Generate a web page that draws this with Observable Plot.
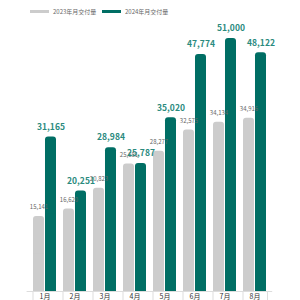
<!DOCTYPE html>
<html><head><meta charset="utf-8">
<script src="https://cdn.jsdelivr.net/npm/d3@7"></script>
<script src="https://cdn.jsdelivr.net/npm/@observablehq/plot@0.6"></script>
<style>
body{margin:0;background:#fff;font-family:"Noto Sans CJK SC","Noto Sans",sans-serif;}
#wrap{width:300px;height:300px;position:relative;overflow:hidden;}
#legend{height:20px;position:relative;font-size:6px;color:#666;}
.li{position:absolute;top:7px;display:flex;align-items:center;}
.sw{width:19px;height:2.5px;margin-right:4px;}
</style></head><body>
<div id="wrap">
<div id="legend"></div>
<div id="chart"></div>
</div>
<script>
const months = ["1月","2月","3月","4月","5月","6月","7月","8月"];
const series2023 = [15141,16620,20823,25681,28277,32575,34134,34916];
const series2024 = [31165,20251,28984,25787,35020,47774,51000,48122];
const seriesNames = ["2023年月交付量","2024年月交付量"];
const colors = ["#cccccc","#006e64"];

const leg = document.getElementById("legend");
[[30,0],[102,1]].forEach(([x,i])=>{
  const d=document.createElement("div");d.className="li";d.style.left=x+"px";
  d.innerHTML=`<span class="sw" style="background:${colors[i]}"></span><span>${seriesNames[i]}</span>`;
  leg.appendChild(d);
});

const d23 = months.map((m,i)=>({month:m,value:series2023[i]}));
const d24 = months.map((m,i)=>({month:m,value:series2024[i]}));
const fmt = d3.format(",");
const half = 12;

const chart = Plot.plot({
  width:300, height:280,
  marginLeft:26.6, marginRight:27.8, marginTop:18, marginBottom:9,
  x:{domain:months, paddingInner:0.22, paddingOuter:0.11, label:null},
  y:{domain:[0,51000], axis:null},
  style:{fontFamily:"Noto Sans CJK SC, Noto Sans, sans-serif"},
  marks:[
    Plot.barY(d23,{x:"month",y:"value",fill:colors[0],insetRight:half,rx:3}),
    Plot.barY(d23,{x:"month",y:d=>d.value/2,fill:colors[0],insetRight:half}),
    Plot.barY(d24,{x:"month",y:"value",fill:colors[1],insetLeft:half,rx:3}),
    Plot.barY(d24,{x:"month",y:d=>d.value/2,fill:colors[1],insetLeft:half}),
    Plot.ruleY([0],{stroke:"#dddddd",strokeWidth:1}),
    Plot.ruleX(months,{x:d=>d,y1:0,y2:-2000,dx:-12,stroke:"#dddddd"}),
    Plot.ruleX(months.slice(-1),{x:d=>d,y1:0,y2:-2000,dx:12.5,stroke:"#dddddd"}),
    Plot.text(d23,{x:"month",y:"value",text:d=>fmt(d.value),dx:-6,dy:-9,fontSize:6,fill:"#666"}),
    Plot.text(d24,{x:"month",y:"value",text:d=>fmt(d.value),dx:6,dy:-10,fontSize:8.5,fontWeight:600,fill:"#2a8a7e"}),
    Plot.axisX({tickSize:0,tickPadding:3,fontSize:7,fill:"#333"})
  ]
});
document.getElementById("chart").appendChild(chart);
</script>
</body></html>
